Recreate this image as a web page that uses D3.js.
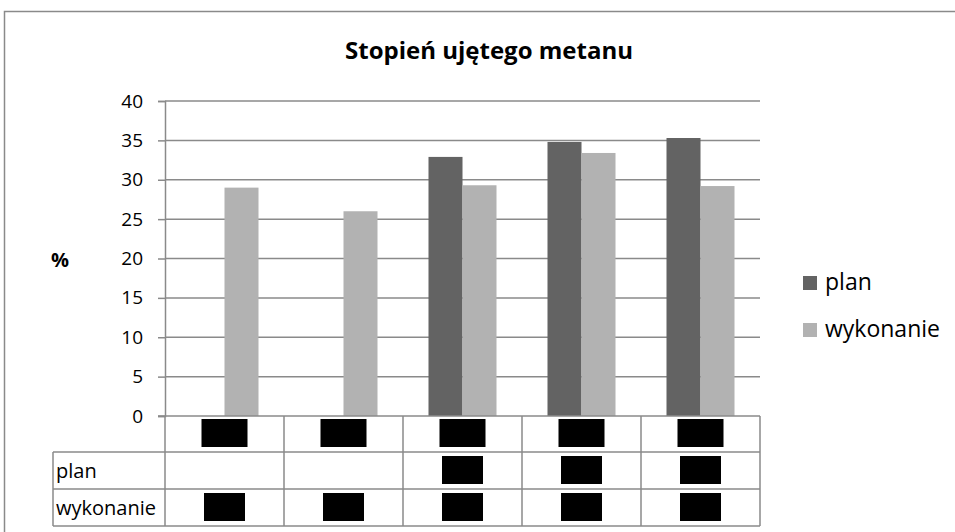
<!DOCTYPE html>
<html>
<head>
<meta charset="utf-8">
<script src="https://cdn.jsdelivr.net/npm/d3@7"></script>
<style>
  body { margin: 0; background: #fff; }
  svg { display: block; font-family: "Open Sans", sans-serif; }
</style>
</head>
<body>
<svg id="chart" width="955" height="532"></svg>
<script>
// category names are redacted in the source, kept as placeholders
const categories = ["k1", "k2", "k3", "k4", "k5"];
const seriesNames = ["plan", "wykonanie"];
const planValues = [null, null, 32.9, 34.8, 35.3];
const wykonanieValues = [29.0, 26.0, 29.3, 33.4, 29.2];
const yTicks = [0, 5, 10, 15, 20, 25, 30, 35, 40];

const colors = { plan: "#636363", wykonanie: "#b2b2b2" };
const gridColor = "#8a8a8a";

const svg = d3.select("#chart");

// outer chart frame
svg.append("rect")
  .attr("x", 4.5).attr("y", 11.5)
  .attr("width", 1000).attr("height", 600)
  .attr("fill", "none").attr("stroke", "#8a8a8a").attr("stroke-width", 1.5);

svg.append("text")
  .attr("x", 489).attr("y", 59)
  .attr("text-anchor", "middle")
  .attr("font-size", 24).attr("font-weight", "bold")
  .text("Stopień ujętego metanu");

const x = d3.scaleBand().domain(categories).range([165, 760]);
const xInner = d3.scaleBand().domain(seriesNames).range([0, x.bandwidth()]).paddingOuter(0.75);
const y = d3.scaleLinear().domain([0, 40]).range([416, 101]);

// gridlines
svg.append("g").selectAll("line").data(yTicks.slice(1)).join("line")
  .attr("x1", 165).attr("x2", 760)
  .attr("y1", d => y(d)).attr("y2", d => y(d))
  .attr("stroke", gridColor).attr("stroke-width", 1.5);

// y axis
const yAxis = svg.append("g")
  .attr("transform", "translate(165,0)")
  .call(d3.axisLeft(y).tickValues(yTicks).tickSize(7).tickPadding(15));
yAxis.select(".domain").attr("stroke", gridColor).attr("stroke-width", 1.5);
yAxis.selectAll(".tick line").attr("stroke", gridColor).attr("stroke-width", 1.5);
yAxis.selectAll(".tick text").attr("font-size", 19).attr("fill", "#000")
  .attr("font-family", "Open Sans, sans-serif");

svg.append("text")
  .attr("x", 60).attr("y", 267)
  .attr("text-anchor", "middle")
  .attr("font-size", 20).attr("font-weight", "bold")
  .text("%");

// bars
const rows = categories.map((c, i) => ({ cat: c, plan: planValues[i], wykonanie: wykonanieValues[i] }));
const groups = svg.append("g").selectAll("g").data(rows).join("g")
  .attr("transform", d => `translate(${x(d.cat)},0)`);
groups.selectAll("rect")
  .data(d => seriesNames.map(s => ({ s, v: d[s] })).filter(e => e.v != null))
  .join("rect")
  .attr("x", e => xInner(e.s))
  .attr("width", xInner.bandwidth())
  .attr("y", e => y(e.v))
  .attr("height", e => y(0) - y(e.v))
  .attr("fill", e => colors[e.s]);

// x axis baseline
svg.append("line")
  .attr("x1", 158).attr("x2", 760)
  .attr("y1", y(0)).attr("y2", y(0))
  .attr("stroke", gridColor).attr("stroke-width", 1.5);

// data table below the chart
const rowY = [416, 452, 489, 526];
const table = svg.append("g").attr("stroke", gridColor).attr("stroke-width", 1.5);
table.selectAll("line.h").data([1, 2, 3]).join("line")
  .attr("x1", 53).attr("x2", 760)
  .attr("y1", i => rowY[i]).attr("y2", i => rowY[i]);
table.selectAll("line.v").data(categories.concat(["end"])).join("line")
  .attr("x1", c => c === "end" ? 760 : x(c))
  .attr("x2", c => c === "end" ? 760 : x(c))
  .attr("y1", 416).attr("y2", 526);
table.append("line").attr("x1", 53).attr("x2", 53).attr("y1", 452).attr("y2", 526);

svg.append("g").selectAll("text").data(seriesNames).join("text")
  .attr("x", 56)
  .attr("y", (s, i) => (rowY[i + 1] + rowY[i + 2]) / 2 + 7)
  .attr("font-size", 20)
  .text(s => s);

// redacted cells (black boxes in the source)
const redact = svg.append("g").attr("fill", "#000");
redact.selectAll("rect.cat").data(categories).join("rect")
  .attr("x", c => x(c) + x.bandwidth() / 2 - 23).attr("width", 46)
  .attr("y", 419).attr("height", 28);
seriesNames.forEach((s, si) => {
  const vals = s === "plan" ? planValues : wykonanieValues;
  redact.selectAll(`rect.v${si}`).data(categories.filter((c, i) => vals[i] != null)).join("rect")
    .attr("x", c => x(c) + x.bandwidth() / 2 - 20.5).attr("width", 41)
    .attr("y", rowY[si + 1] + 4).attr("height", 28);
});

// legend
const legend = svg.append("g").attr("transform", "translate(803,276)");
legend.selectAll("rect").data(seriesNames).join("rect")
  .attr("x", 0).attr("y", (s, i) => i * 47)
  .attr("width", 14).attr("height", 14)
  .attr("fill", s => colors[s]);
legend.selectAll("text").data(seriesNames).join("text")
  .attr("x", 22).attr("y", (s, i) => i * 47 + 14)
  .attr("font-size", 23)
  .text(s => s);
</script>
</body>
</html>
